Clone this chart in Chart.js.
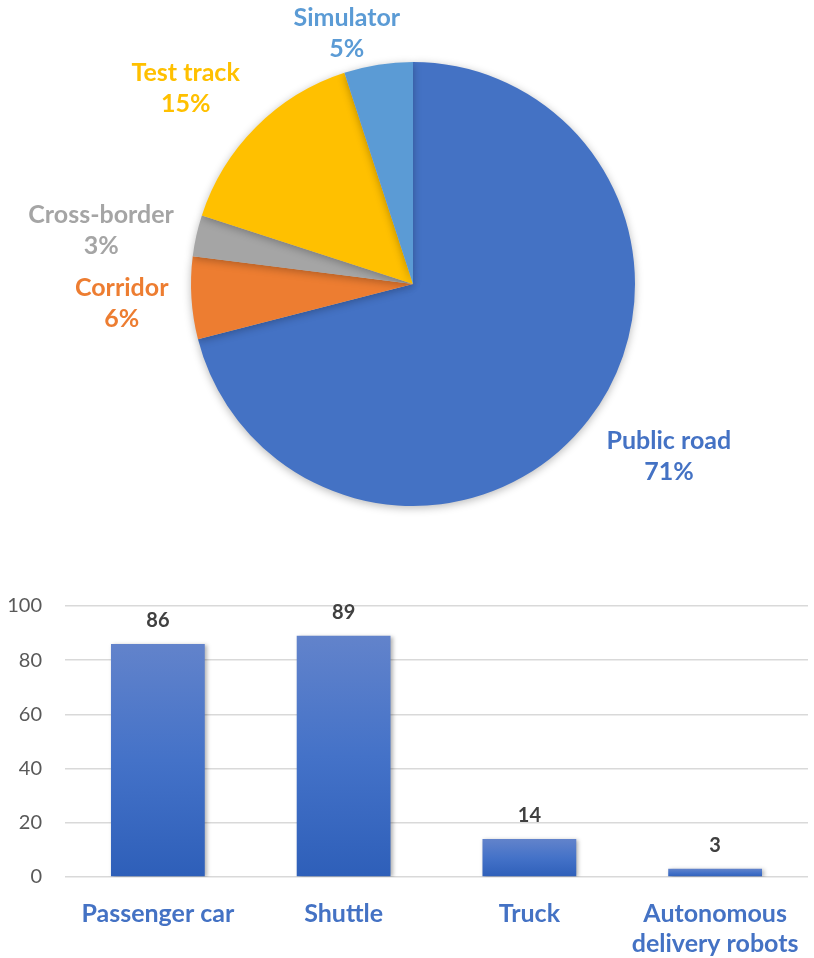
<!DOCTYPE html>
<html>
<head>
<meta charset="utf-8">
<script src="https://cdn.jsdelivr.net/npm/chart.js@4"></script>
<style>
  html, body { margin: 0; padding: 0; background: #ffffff; }
  #pieWrap { position: absolute; left: 0; top: 0; width: 814px; height: 540px; }
  #barWrap { position: absolute; left: 0; top: 540px; width: 814px; height: 418px; }
</style>
</head>
<body>
<div id="pieWrap"><canvas id="pie"></canvas></div>
<div id="barWrap"><canvas id="bar"></canvas></div>
<script>
// ---- Data ----
const pieLabels = ["Public road", "Corridor", "Cross-border", "Test track", "Simulator"];
const pieValues = [71, 6, 3, 15, 5];
const pieColors = ["#4472C4", "#ED7D31", "#A5A5A5", "#FFC000", "#5B9BD5"];

const barCategories = ["Passenger car", "Shuttle", "Truck", ["Autonomous", "delivery robots"]];
const barValues = [86, 89, 14, 3];
const yTicks = [0, 20, 40, 60, 80, 100];

const FONT = "Lato, 'Open Sans', sans-serif";

// ---- Pie chart ----
const pieLabelPlugin = {
  id: 'pieLabels',
  afterDatasetsDraw(chart) {
    const ctx = chart.ctx;
    const meta = chart.getDatasetMeta(0);
    const total = pieValues.reduce((a, b) => a + b, 0);
    ctx.save();
    ctx.font = "bold 25px " + FONT;
    ctx.textAlign = 'center';
    ctx.textBaseline = 'middle';
    const lineGap = 31, blockH = 56, anchorH = 44, gap = 23, sepY = 17;
    const boxes = [];
    meta.data.forEach((arc, i) => {
      const p = arc.getProps(['x', 'y', 'startAngle', 'endAngle', 'outerRadius'], true);
      const mid = (p.startAngle + p.endAngle) / 2;
      const ux = Math.cos(mid), uy = Math.sin(mid);
      const l1 = pieLabels[i];
      const l2 = Math.round(pieValues[i] / total * 100) + '%';
      const w = Math.max(ctx.measureText(l1).width, ctx.measureText(l2).width);
      const d = p.outerRadius + gap;
      const px = p.x + ux * d, py = p.y + uy * d;
      const kx = Math.max(-1, Math.min(1, ux / 0.3));
      let cx = px + kx * w / 2;
      let cy = py;
      if (uy >= 0.5) cy = py + anchorH / 2;
      else if (uy <= -0.5) cy = py - anchorH / 2;
      cy = Math.max(cy, blockH / 2 + 5);
      boxes.push({ i, l1, l2, w, cx, cy });
    });
    // simple overlap resolution: push overlapping labels downward
    const sorted = boxes.slice().sort((a, b) => a.cy - b.cy);
    for (let a = 0; a < sorted.length; a++) {
      for (let b = 0; b < a; b++) {
        const A = sorted[a], B = sorted[b];
        const overlapX = Math.abs(A.cx - B.cx) < (A.w + B.w) / 2;
        if (overlapX && A.cy - B.cy < blockH + sepY) {
          A.cy = B.cy + blockH + sepY;
        }
      }
    }
    boxes.forEach(bx => {
      ctx.fillStyle = pieColors[bx.i];
      ctx.fillText(bx.l1, bx.cx, bx.cy - lineGap / 2);
      ctx.fillText(bx.l2, bx.cx, bx.cy + lineGap / 2);
    });
    ctx.restore();
  }
};

const shadowPlugin = {
  id: 'softShadow',
  beforeDatasetsDraw(chart, args, opts) {
    const ctx = chart.ctx;
    ctx.save();
    ctx.shadowColor = opts.color || 'rgba(0,0,0,0.3)';
    ctx.shadowBlur = opts.blur || 6;
    ctx.shadowOffsetX = opts.dx || 0;
    ctx.shadowOffsetY = opts.dy || 2;
  },
  afterDatasetsDraw(chart) {
    chart.ctx.restore();
  }
};

new Chart(document.getElementById('pie'), {
  type: 'pie',
  data: {
    labels: pieLabels,
    datasets: [{
      data: pieValues,
      backgroundColor: pieColors,
      borderWidth: 0,
      hoverOffset: 0
    }]
  },
  options: {
    responsive: true,
    maintainAspectRatio: false,
    animation: false,
    layout: { padding: { top: 62, bottom: 34, left: 191, right: 179 } },
    plugins: {
      legend: { display: false },
      tooltip: { enabled: false },
      softShadow: { color: 'rgba(0,0,0,0.28)', blur: 8, dx: 0, dy: 2 }
    }
  },
  plugins: [shadowPlugin, pieLabelPlugin]
});

// ---- Bar chart ----
const barValueLabels = {
  id: 'barValueLabels',
  afterDatasetsDraw(chart) {
    const ctx = chart.ctx;
    const meta = chart.getDatasetMeta(0);
    ctx.save();
    ctx.font = "bold 20px " + FONT;
    ctx.fillStyle = '#404040';
    ctx.textAlign = 'center';
    ctx.textBaseline = 'alphabetic';
    meta.data.forEach((bar, i) => {
      const p = bar.getProps(['x', 'y'], true);
      ctx.fillText(String(barValues[i]), p.x, p.y - 17);
    });
    ctx.restore();
  }
};

function barGradient(context) {
  const chart = context.chart;
  const area = chart.chartArea;
  if (!area || context.dataIndex === undefined) return '#4472C4';
  const ys = chart.scales.y;
  const v = barValues[context.dataIndex];
  const top = ys.getPixelForValue(v);
  const base = ys.getPixelForValue(0);
  const g = chart.ctx.createLinearGradient(0, top, 0, Math.max(base, top + 1));
  g.addColorStop(0, '#6283CB');
  g.addColorStop(0.5, '#4472C8');
  g.addColorStop(1, '#2E5FB9');
  return g;
}

new Chart(document.getElementById('bar'), {
  type: 'bar',
  data: {
    labels: barCategories,
    datasets: [{
      data: barValues,
      backgroundColor: barGradient,
      borderWidth: 0,
      categoryPercentage: 1,
      barPercentage: 0.505
    }]
  },
  options: {
    responsive: true,
    maintainAspectRatio: false,
    animation: false,
    layout: { padding: { top: 66, right: 6, left: 0, bottom: 0 } },
    scales: {
      x: {
        grid: { display: false, drawTicks: false },
        border: { display: false },
        ticks: {
          color: '#4472C4',
          font: { family: FONT, size: 25, weight: 'bold', lineHeight: 1.2 },
          padding: 22,
          maxRotation: 0,
          autoSkip: false
        },
        afterFit(scale) {
          scale.height = 81;
          scale.paddingLeft = 0;
          scale.paddingRight = 0;
        }
      },
      y: {
        min: 0,
        max: 100,
        grid: { color: '#D9D9D9', lineWidth: 1.5, drawTicks: false },
        border: { display: false },
        ticks: {
          stepSize: 20,
          color: '#595959',
          font: { family: FONT, size: 20 },
          padding: 23,
          callback: (v) => yTicks.includes(v) ? String(v) : ''
        },
        afterFit(scale) { scale.width = 65; }
      }
    },
    plugins: {
      legend: { display: false },
      tooltip: { enabled: false },
      softShadow: { color: 'rgba(0,0,0,0.3)', blur: 4, dx: 2, dy: 1 }
    }
  },
  plugins: [shadowPlugin, barValueLabels]
});
</script>
</body>
</html>
